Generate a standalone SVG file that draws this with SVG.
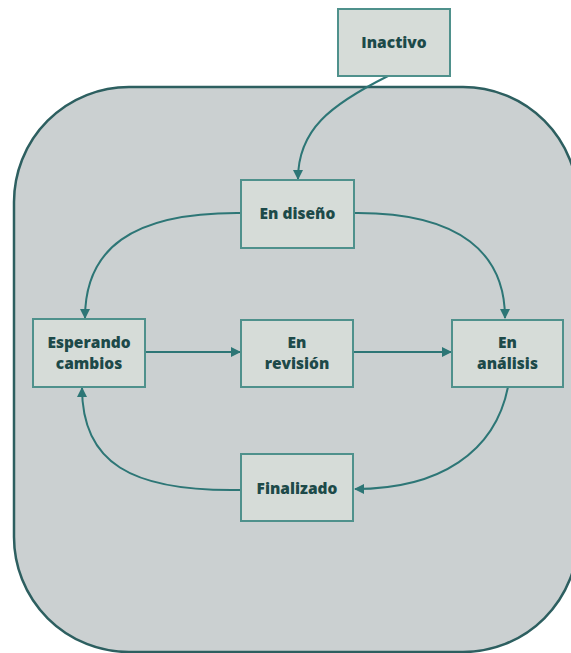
<svg xmlns="http://www.w3.org/2000/svg" width="571" height="653" viewBox="0 0 571 653">
  <style>
    .box { fill: #d6dcd8; stroke: #4f918c; stroke-width: 2; }
    .lbl { font-family: "Open Sans", "Noto Sans", "DejaVu Sans", sans-serif; font-weight: 800; font-size: 15.5px; fill: #1d4a49; text-anchor: middle; }
    .edge { fill: none; stroke: #2d7676; stroke-width: 2; marker-end: url(#arrow); }
  </style>
  <defs>
    <marker id="arrow" viewBox="0 0 10 10" refX="9" refY="5" markerWidth="10" markerHeight="10" markerUnits="userSpaceOnUse" orient="auto">
      <path d="M0,0 L10,5 L0,10 Z" fill="#2d7676"/>
    </marker>
  </defs>

  <rect width="571" height="653" fill="#ffffff"/>

  <!-- container for the active states -->
  <g id="container">
    <rect x="14" y="87" width="564" height="565" rx="115" ry="115" fill="#cbd0d1" stroke="#2d5f60" stroke-width="2.5"/>
  </g>

  <g id="connectors">
    <path class="edge" d="M388,76 C330,105 298,130 298,179"/>
    <path class="edge" d="M241,213 C130,212 85,250 85,318"/>
    <path class="edge" d="M354,213 C462,212 505,255 505,318"/>
    <path class="edge" d="M145,352 L240,352"/>
    <path class="edge" d="M353,352 L451,352"/>
    <path class="edge" d="M508,387 C495,452 440,489 355,489"/>
    <path class="edge" d="M241,490 C130,492 82,462 82,388"/>
  </g>

  <g id="inactivo">
    <rect class="box" x="338" y="9" width="112" height="67"/>
    <text class="lbl" x="394" y="48">Inactivo</text>
  </g>

  <g id="en-diseno">
    <rect class="box" x="241" y="180" width="113" height="68"/>
    <text class="lbl" x="297.5" y="219">En diseño</text>
  </g>

  <g id="esperando-cambios">
    <rect class="box" x="33" y="319" width="112" height="68"/>
    <text class="lbl" x="89" y="348">Esperando</text>
    <text class="lbl" x="89" y="369">cambios</text>
  </g>

  <g id="en-revision">
    <rect class="box" x="241" y="320" width="112" height="67"/>
    <text class="lbl" x="297" y="348">En</text>
    <text class="lbl" x="297" y="369">revisión</text>
  </g>

  <g id="en-analisis">
    <rect class="box" x="452" y="320" width="111" height="67"/>
    <text class="lbl" x="507.5" y="348">En</text>
    <text class="lbl" x="507.5" y="369">análisis</text>
  </g>

  <g id="finalizado">
    <rect class="box" x="241" y="454" width="112" height="67"/>
    <text class="lbl" x="297" y="494">Finalizado</text>
  </g>
</svg>
